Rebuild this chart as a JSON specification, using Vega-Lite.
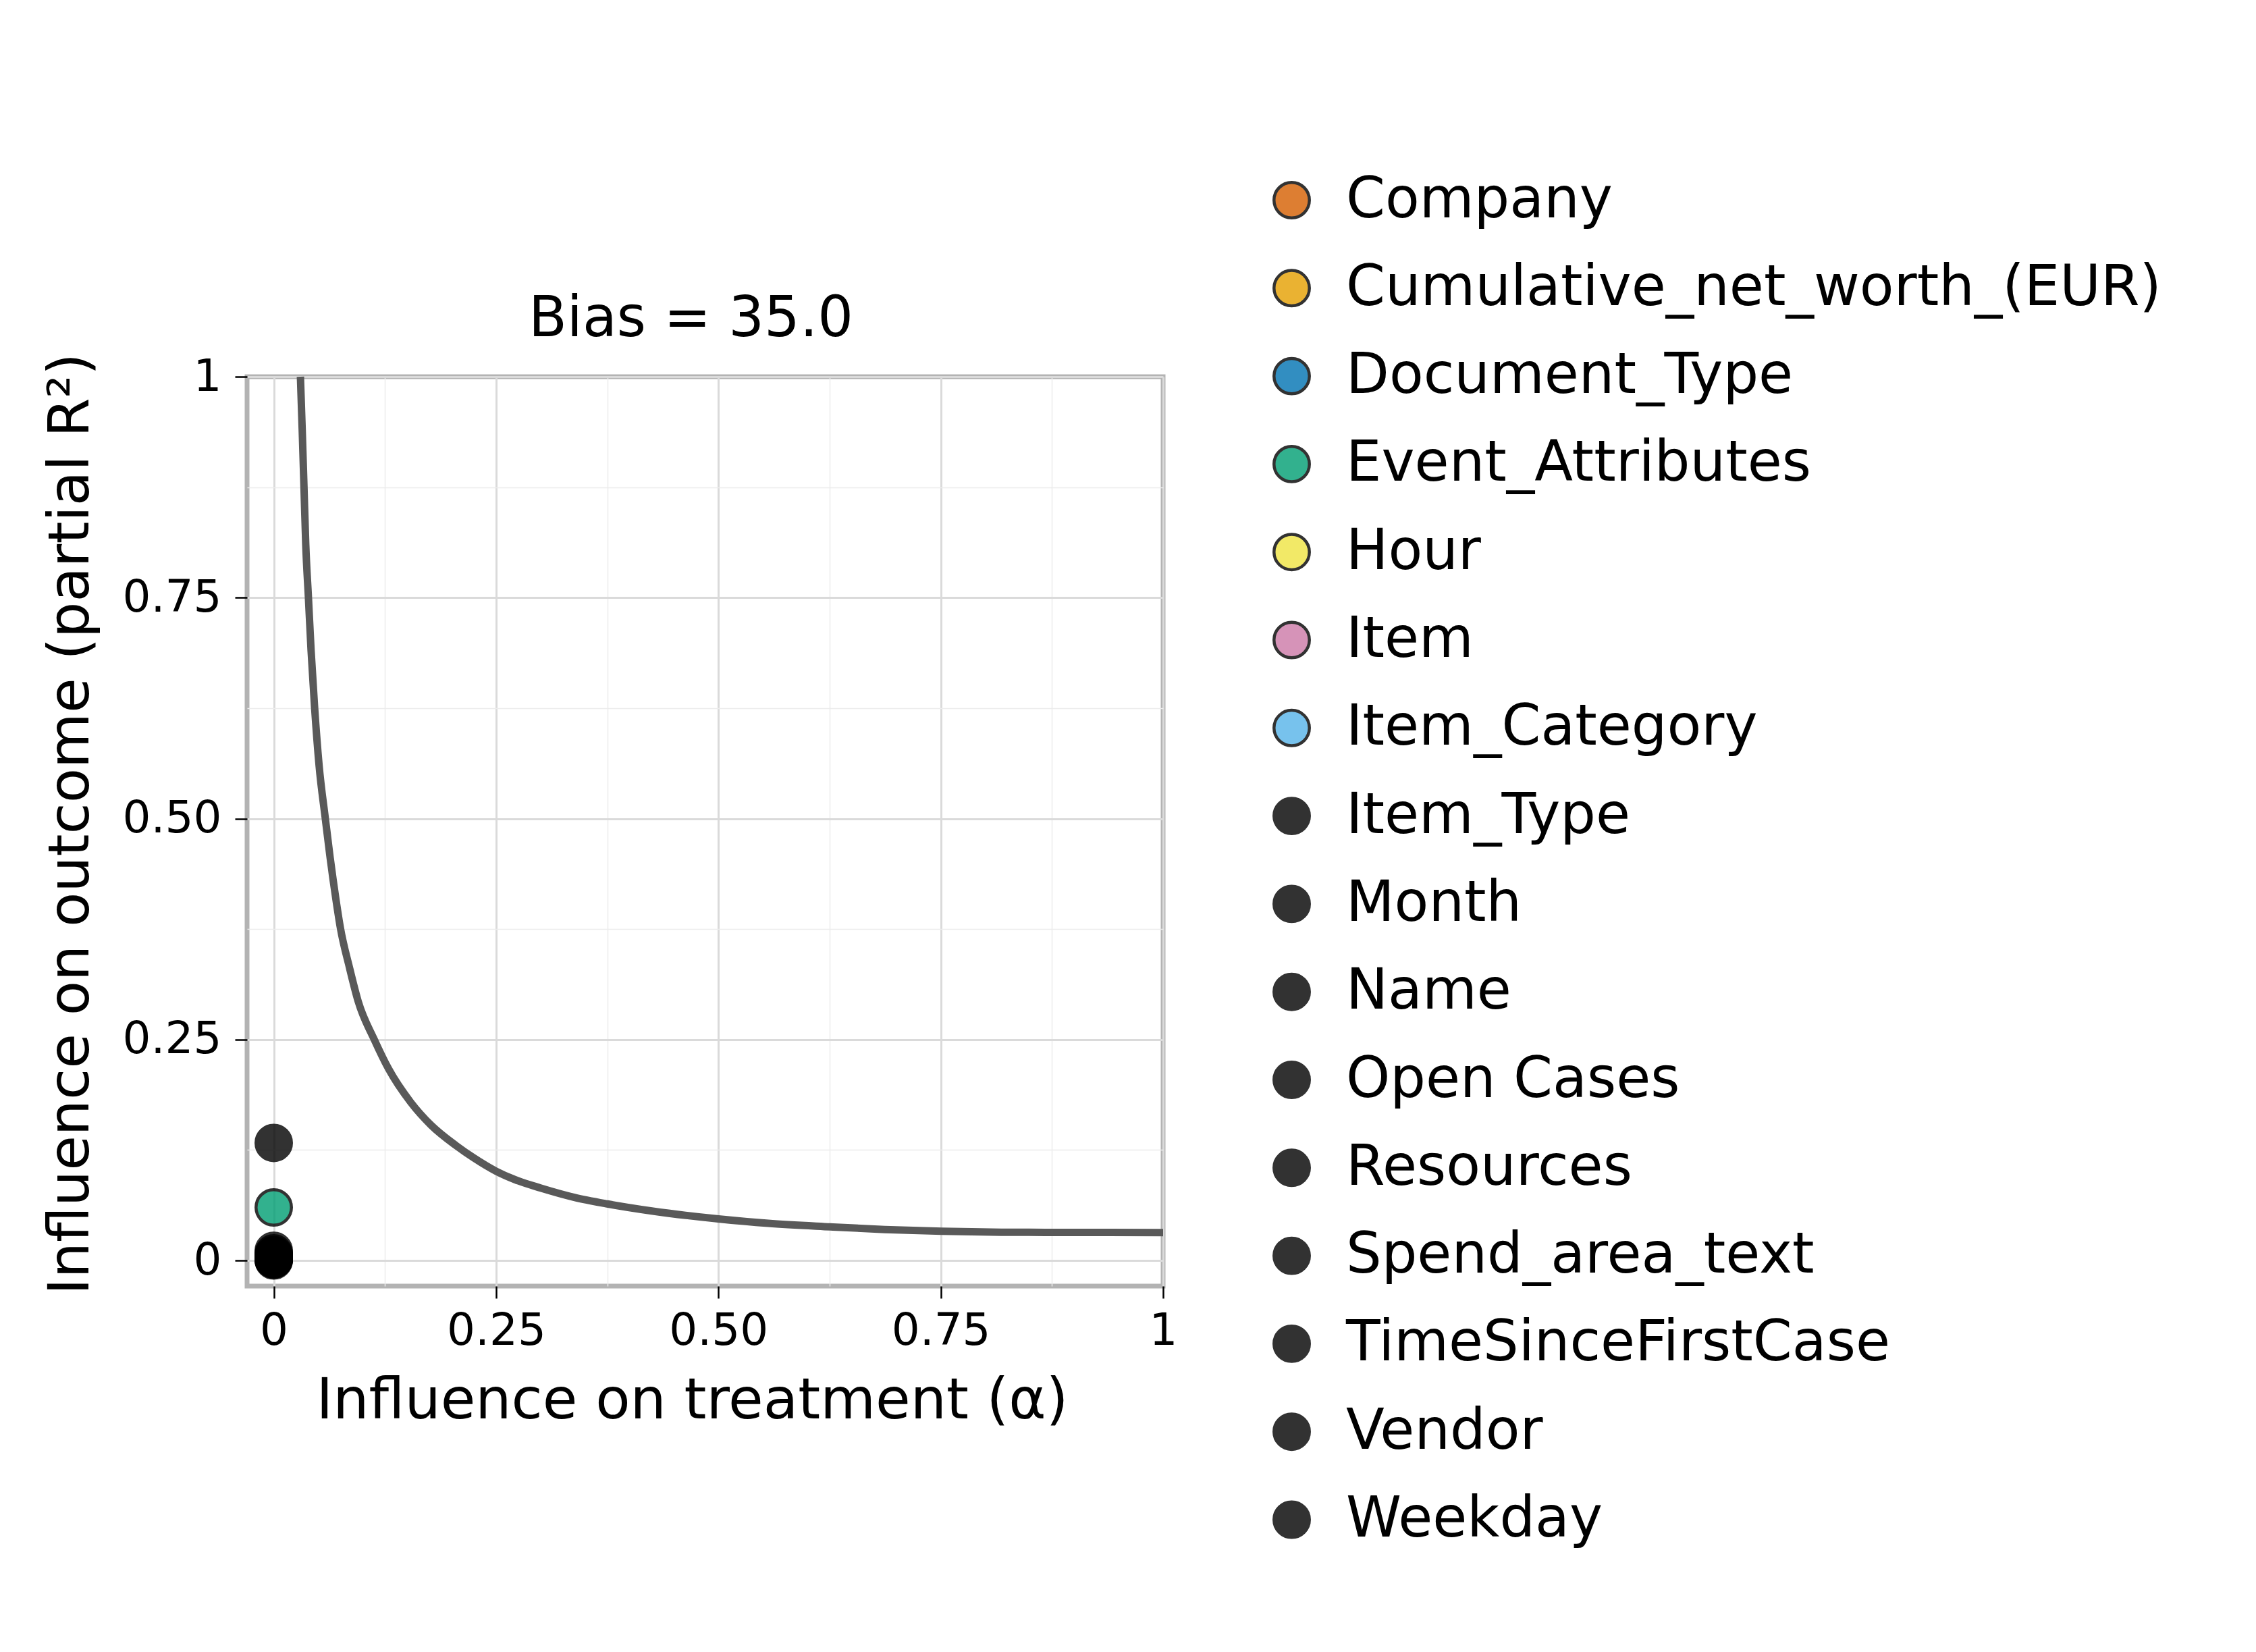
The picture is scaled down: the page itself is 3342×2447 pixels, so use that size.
{
  "$schema": "https://vega.github.io/schema/vega-lite/v6.json",
  "width": 1357,
  "height": 1347,
  "autosize": {"type": "none"},
  "padding": {"left": 366, "top": 558, "right": 1619, "bottom": 542},
  "background": "white",
  "title": {"text": "Bias = 35.0", "fontSize": 83, "font": "DejaVu Sans", "fontWeight": "normal", "anchor": "middle", "offset": -326, "dx": -21, "color": "black", "baseline": "alphabetic"},
  "config": {
    "font": "DejaVu Sans",
    "view": {"stroke": "#b3b3b3", "strokeWidth": 7},
    "axis": {
      "domain": false,
      "tickColor": "black",
      "tickSize": 18,
      "tickWidth": 2.5,
      "labelFontSize": 66,
      "labelColor": "black",
      "labelFont": "DejaVu Sans",
      "labelOverlap": false,
      "labelFlush": false,
      "labelBound": false,
      "titleFont": "DejaVu Sans",
      "titleFontSize": 84,
      "titleFontWeight": "normal",
      "titleColor": "black"
    }
  },
  "datasets": {
    "curve": [
      {"alpha": 0.030, "r2": 1.0},
      {"alpha": 0.032, "r2": 0.94},
      {"alpha": 0.034, "r2": 0.875},
      {"alpha": 0.036, "r2": 0.81},
      {"alpha": 0.039, "r2": 0.75},
      {"alpha": 0.042, "r2": 0.69},
      {"alpha": 0.046, "r2": 0.625},
      {"alpha": 0.051, "r2": 0.56},
      {"alpha": 0.058, "r2": 0.5},
      {"alpha": 0.063, "r2": 0.459},
      {"alpha": 0.070, "r2": 0.408},
      {"alpha": 0.075, "r2": 0.376},
      {"alpha": 0.085, "r2": 0.332},
      {"alpha": 0.095, "r2": 0.293},
      {"alpha": 0.113, "r2": 0.25},
      {"alpha": 0.129, "r2": 0.217},
      {"alpha": 0.154, "r2": 0.179},
      {"alpha": 0.177, "r2": 0.153},
      {"alpha": 0.205, "r2": 0.130},
      {"alpha": 0.225, "r2": 0.116},
      {"alpha": 0.25, "r2": 0.101},
      {"alpha": 0.275, "r2": 0.090},
      {"alpha": 0.30, "r2": 0.082},
      {"alpha": 0.338, "r2": 0.0714},
      {"alpha": 0.375, "r2": 0.064},
      {"alpha": 0.425, "r2": 0.056},
      {"alpha": 0.5, "r2": 0.047},
      {"alpha": 0.556, "r2": 0.042},
      {"alpha": 0.626, "r2": 0.038},
      {"alpha": 0.687, "r2": 0.035},
      {"alpha": 0.751, "r2": 0.033},
      {"alpha": 0.818, "r2": 0.032},
      {"alpha": 0.876, "r2": 0.0318},
      {"alpha": 1.0, "r2": 0.0316}
    ],
    "pts": [
      {"variable": "Company", "alpha": 0, "r2": 0.003},
      {"variable": "Cumulative_net_worth_(EUR)", "alpha": 0, "r2": 0.002},
      {"variable": "Document_Type", "alpha": 0, "r2": 0.004},
      {"variable": "Event_Attributes", "alpha": 0, "r2": 0.060},
      {"variable": "Hour", "alpha": 0, "r2": 0.001},
      {"variable": "Item", "alpha": 0, "r2": 0.005},
      {"variable": "Item_Category", "alpha": 0, "r2": 0.003},
      {"variable": "Item_Type", "alpha": 0, "r2": 0.133},
      {"variable": "Month", "alpha": 0, "r2": 0.011},
      {"variable": "Name", "alpha": 0, "r2": 0.008},
      {"variable": "Open Cases", "alpha": 0, "r2": 0.002},
      {"variable": "Resources", "alpha": 0, "r2": 0.005},
      {"variable": "Spend_area_text", "alpha": 0, "r2": 0.0},
      {"variable": "TimeSinceFirstCase", "alpha": 0, "r2": 0.003},
      {"variable": "Vendor", "alpha": 0, "r2": 0.006},
      {"variable": "Weekday", "alpha": 0, "r2": 0.001}
    ]
  },
  "layer": [
    {
      "data": {"name": "curve"},
      "mark": {"type": "line", "color": "#595959", "strokeWidth": 11, "interpolate": "monotone"},
      "encoding": {
        "x": {
          "field": "alpha", "type": "quantitative",
          "scale": {"domain": [-0.03, 1], "nice": false, "zero": false},
          "axis": {
            "values": [0, 0.125, 0.25, 0.375, 0.5, 0.625, 0.75, 0.875, 1],
            "labelExpr": "datum.value == 0 ? '0' : datum.value == 1 ? '1' : (datum.value * 4) % 1 != 0 ? '' : format(datum.value, '.2f')",
            "gridColor": {"condition": {"test": "(datum.value * 4) % 1 != 0", "value": "#ececec"}, "value": "#dadada"},
            "gridWidth": {"condition": {"test": "(datum.value * 4) % 1 != 0", "value": 1.5}, "value": 3},
            "tickOpacity": {"condition": {"test": "(datum.value * 4) % 1 != 0", "value": 0}, "value": 1},
            "labelPadding": 16,
            "title": "Influence on treatment (α)",
            "titleX": 659,
            "titleY": 195,
            "titleAlign": "center",
            "titleBaseline": "alphabetic"
          }
        },
        "y": {
          "field": "r2", "type": "quantitative",
          "scale": {"domain": [-0.029, 1], "nice": false, "zero": false},
          "axis": {
            "values": [0, 0.125, 0.25, 0.375, 0.5, 0.625, 0.75, 0.875, 1],
            "labelExpr": "datum.value == 0 ? '0' : datum.value == 1 ? '1' : (datum.value * 4) % 1 != 0 ? '' : format(datum.value, '.2f')",
            "gridColor": {"condition": {"test": "(datum.value * 4) % 1 != 0", "value": "#ececec"}, "value": "#dadada"},
            "gridWidth": {"condition": {"test": "(datum.value * 4) % 1 != 0", "value": 1.5}, "value": 3},
            "tickOpacity": {"condition": {"test": "(datum.value * 4) % 1 != 0", "value": 0}, "value": 1},
            "labelPadding": 20,
            "title": "Influence on outcome (partial R²)",
            "titleX": -236,
            "titleY": 662,
            "titleAngle": -90,
            "titleAlign": "center",
            "titleBaseline": "alphabetic"
          }
        }
      }
    },
    {
      "data": {"name": "pts"},
      "mark": {"type": "point", "shape": "circle", "filled": true, "size": 2750, "opacity": 0.8, "stroke": "black", "strokeWidth": 4.5},
      "encoding": {
        "x": {"field": "alpha", "type": "quantitative"},
        "y": {"field": "r2", "type": "quantitative"},
        "color": {
          "field": "variable", "type": "nominal",
          "scale": {
            "domain": ["Company", "Cumulative_net_worth_(EUR)", "Document_Type", "Event_Attributes", "Hour", "Item", "Item_Category", "Item_Type", "Month", "Name", "Open Cases", "Resources", "Spend_area_text", "TimeSinceFirstCase", "Vendor", "Weekday"],
            "range": ["#D55E00", "#E69F00", "#0072B2", "#009E73", "#F0E442", "#CC79A7", "#56B4E9", "#000000", "#000000", "#000000", "#000000", "#000000", "#000000", "#000000", "#000000", "#000000"]
          },
          "legend": {
            "title": null,
            "orient": "none",
            "legendX": 1506,
            "legendY": -303,
            "padding": 0,
            "symbolType": "circle",
            "symbolSize": 2750,
            "symbolStrokeColor": "black",
            "symbolStrokeWidth": 4.5,
            "symbolOpacity": 0.8,
            "labelFontSize": 83,
            "labelFont": "DejaVu Sans",
            "labelColor": "black",
            "labelOffset": 39,
            "rowPadding": 46.3,
            "labelLimit": 2000
          }
        }
      }
    }
  ]
}
